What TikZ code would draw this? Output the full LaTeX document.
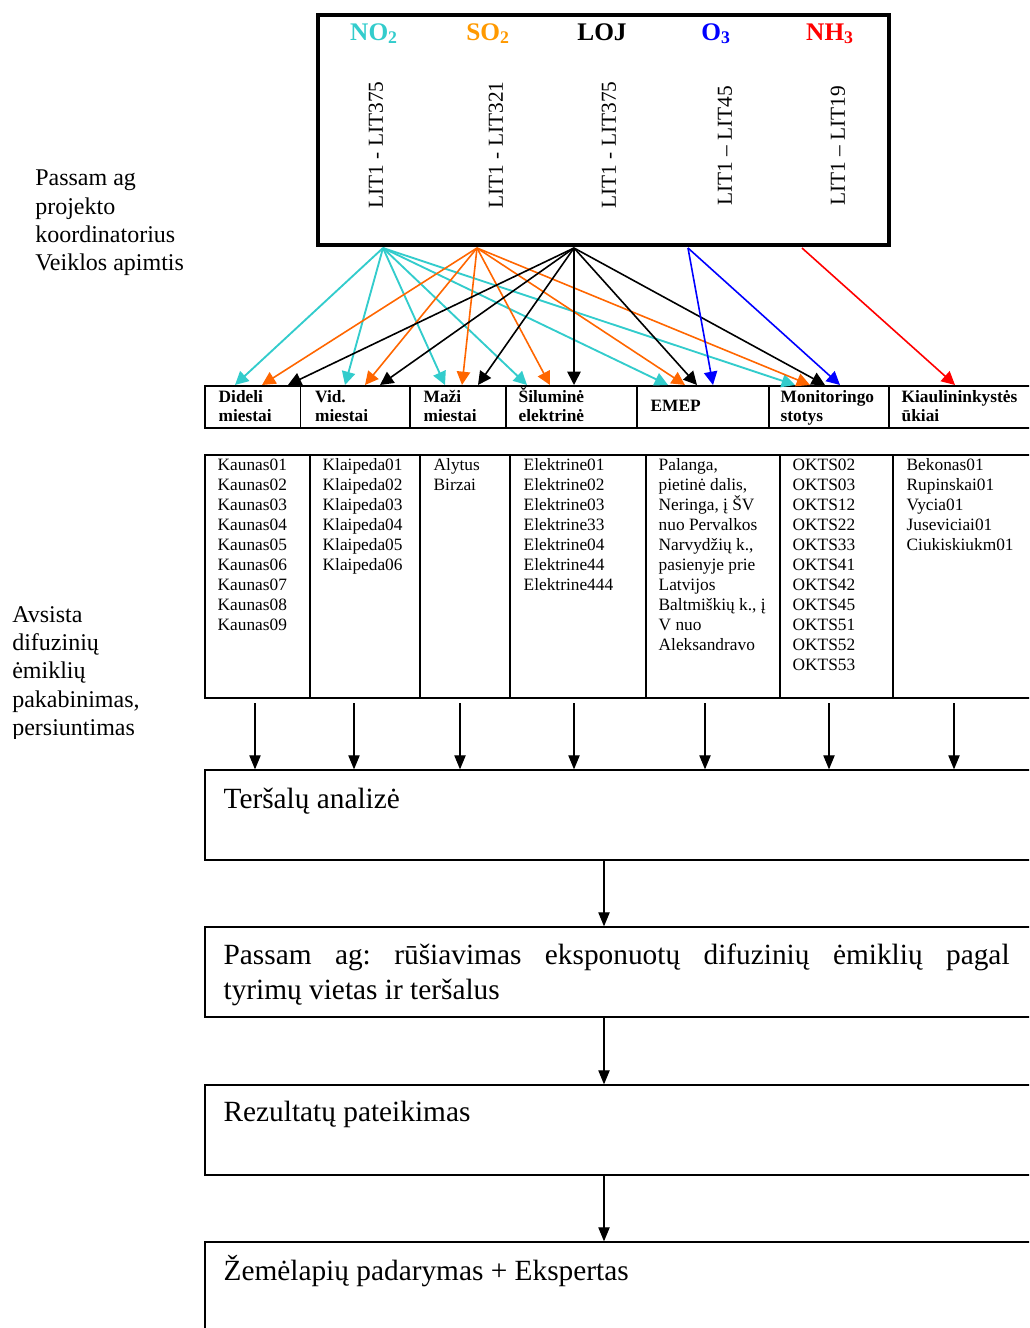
\documentclass[tikz,border=0pt]{standalone}
\usepackage{fontspec}
\setmainfont{Liberation Serif}
\usetikzlibrary{arrows.meta,fit,calc}
\definecolor{turq}{HTML}{33CCCC}
\definecolor{orng}{HTML}{FF6600}
\definecolor{orhead}{HTML}{FF9900}
\definecolor{blu}{HTML}{0000FF}
\definecolor{rd}{HTML}{FF0000}
\newcommand\tstrut[1]{\rule{0pt}{#1}}
\frenchspacing
\begin{document}
\begin{tikzpicture}[x=0.75pt,y=-0.75pt,
  cell/.style={draw,line width=0.9pt,inner sep=0pt},
  frame/.style={draw,line width=3pt,inner sep=0pt},
  flowbox/.style={draw,line width=1pt,inner sep=0pt},
  chem/.style={anchor=base,inner sep=0pt,font=\bfseries\fontsize{19}{21}\selectfont},
  vlab/.style={rotate=90,inner sep=0pt,font=\fontsize{16}{18}\selectfont},
  side/.style={anchor=north west,align=left,inner sep=0pt,font=\fontsize{18}{21.3}\selectfont},
  head/.style={anchor=north west,align=left,inner sep=0pt,font=\bfseries\fontsize{13}{14.3}\selectfont},
  list/.style={anchor=north west,align=left,inner sep=0pt,font=\fontsize{13}{15}\selectfont},
  boxtext/.style={anchor=north west,inner sep=0pt,font=\fontsize{22}{26.3}\selectfont},
  fan/.style={line width=1.2pt,-{Triangle[length=10pt,width=10pt]}},
  down/.style={line width=0.8pt,-{Triangle[length=10.5pt,width=8.5pt]}},
]
\useasboundingbox (0,0) rectangle (1029,1328);
\clip (0,0) rectangle (1029,1328);

% top frame
\node[frame,fit={(317.5,14.5) (888.5,244.5)}] (top) {};
\node[chem,text=turq]   (cNO) at (374,40) {NO\textsubscript{2}};
\node[chem,text=orhead] (cSO) at (488,40) {SO\textsubscript{2}};
\node[chem,text=black]  (cLOJ) at (602,40) {LOJ};
\node[chem,text=blu]    (cO) at (716,40) {O\textsubscript{3}};
\node[chem,text=rd]     (cNH) at (830,40) {NH\textsubscript{3}};
\node[vlab] (v1) at (376,145) {LIT1 - LIT375};
\node[vlab] (v2) at (496,145) {LIT1 - LIT321};
\node[vlab] (v3) at (609,145) {LIT1 - LIT375};
\node[vlab] (v4) at (725,146) {LIT1 – LIT45};
\node[vlab] (v5) at (838,146) {LIT1 – LIT19};

% side labels
\node[side] (sideA) at (35,164) {\tstrut{16pt}Passam ag\\projekto\\koordinatorius\\Veiklos apimtis};
\begin{scope}
\clip (0,590) rectangle (200,738);
\node[side] (sideB) at (12,600.5) {\tstrut{16pt}Avsista\\difuzinių\\ėmiklių\\pakabinimas,\\persiuntimas};
\end{scope}

% header row
\node[cell,fit={(205,386) (300.5,428)}] (h1) {};
\node[cell,fit={(300.5,386) (410,428)}] (h2) {};
\node[cell,fit={(410,386) (506,428)}] (h3) {};
\node[cell,fit={(506,386) (637,428)}] (h4) {};
\node[cell,fit={(637,386) (769,428)}] (h5) {};
\node[cell,fit={(769,386) (889,428)}] (h6) {};
\node[cell,fit={(889,386) (1045,428)}] (h7) {};
\node[head] (ht1) at ($(h1.north west)+(14,1)$) {\tstrut{12pt}Dideli\\miestai};
\node[head] (ht2) at ($(h2.north west)+(15,1)$) {\tstrut{12pt}Vid.\\miestai};
\node[head] (ht3) at ($(h3.north west)+(14,1)$) {\tstrut{12pt}Maži\\miestai};
\node[head] (ht4) at ($(h4.north west)+(13,1)$) {\tstrut{12pt}Šiluminė\\elektrinė};
\node[head] (ht5) at ($(h5.north west)+(14,10)$) {\tstrut{12pt}EMEP};
\node[head] (ht6) at ($(h6.north west)+(12,1)$) {\tstrut{12pt}Monitoringo\\stotys};
\node[head] (ht7) at ($(h7.north west)+(13,1)$) {\tstrut{12pt}Kiaulininkystės\\ūkiai};

% list table
\node[cell,fit={(205,455) (310,698)}] (l1) {};
\node[cell,fit={(310,455) (420,698)}] (l2) {};
\node[cell,fit={(420,455) (510,698)}] (l3) {};
\node[cell,fit={(510,455) (646,698)}] (l4) {};
\node[cell,fit={(646,455) (780,698)}] (l5) {};
\node[cell,fit={(780,455) (893,698)}] (l6) {};
\node[cell,fit={(893,455) (1045,698)}] (l7) {};
\node[list] (lt1) at ($(l1.north west)+(13,0)$) {\tstrut{12pt}Kaunas01\\Kaunas02\\Kaunas03\\Kaunas04\\Kaunas05\\Kaunas06\\Kaunas07\\Kaunas08\\Kaunas09};
\node[list] (lt2) at ($(l2.north west)+(13,0)$) {\tstrut{12pt}Klaipeda01\\Klaipeda02\\Klaipeda03\\Klaipeda04\\Klaipeda05\\Klaipeda06};
\node[list] (lt3) at ($(l3.north west)+(14,0)$) {\tstrut{12pt}Alytus\\Birzai};
\node[list] (lt4) at ($(l4.north west)+(14,0)$) {\tstrut{12pt}Elektrine01\\Elektrine02\\Elektrine03\\Elektrine33\\Elektrine04\\Elektrine44\\Elektrine444};
\node[list] (lt5) at ($(l5.north west)+(13,0)$) {\tstrut{12pt}Palanga,\\pietinė dalis,\\Neringa, į ŠV\\nuo Pervalkos\\Narvydžių k.,\\pasienyje prie\\Latvijos\\Baltmiškių k., į\\V nuo\\Aleksandravo};
\node[list] (lt6) at ($(l6.north west)+(13,0)$) {\tstrut{12pt}OKTS02\\OKTS03\\OKTS12\\OKTS22\\OKTS33\\OKTS41\\OKTS42\\OKTS45\\OKTS51\\OKTS52\\OKTS53};
\node[list] (lt7) at ($(l7.north west)+(14,0)$) {\tstrut{12pt}Bekonas01\\Rupinskai01\\Vycia01\\Juseviciai01\\Ciukiskiukm01};

% flow boxes
\node[flowbox,fit={(205,770) (1045,860)}] (b1) {};
\node[flowbox,fit={(205,927) (1045,1017)}] (b2) {};
\node[flowbox,fit={(205,1085) (1045,1175)}] (b3) {};
\node[flowbox,fit={(205,1242) (1045,1345)}] (b4) {};
\node[boxtext] (bt1) at ($(b1.north west)+(19,12.3)$) {\tstrut{20pt}Teršalų analizė};
\node[boxtext,text width=589.5pt,align=justify] (bt2) at ($(b2.north west)+(19,11.3)$)
  {\frenchspacing\hyphenpenalty=10000\tstrut{20pt}Passam ag: rūšiavimas eksponuotų difuzinių ėmiklių pagal\linebreak tyrimų vietas ir teršalus};
\node[boxtext] (bt3) at ($(b3.north west)+(19,10.3)$) {\tstrut{20pt}Rezultatų pateikimas};
\node[boxtext] (bt4) at ($(b4.north west)+(19,12.3)$) {\tstrut{20pt}Žemėlapių padarymas + Ekspertas};

% fan arrows from the top frame
\coordinate (sq) at (383,248);
\coordinate (so) at (477,248);
\coordinate (sk) at (574,248);
\coordinate (sb) at (688,248);
\coordinate (sr) at (802,248);
\foreach \x [count=\i] in {235,345,445,527,668,795}
  {\coordinate (tq\i) at (\x,385); \draw[fan,turq,line width=1.4pt] (sq) -- (tq\i);}
\foreach \x [count=\i] in {262,365,462,550,685,810}
  {\coordinate (to\i) at (\x,385); \draw[fan,orng] (so) -- (to\i);}
\foreach \x [count=\i] in {288,380,478,574,697,825}
  {\coordinate (tk\i) at (\x,385); \draw[fan,black] (sk) -- (tk\i);}
\foreach \x [count=\i] in {713,840}
  {\coordinate (tb\i) at (\x,385); \draw[fan,blu] (sb) -- (tb\i);}
\coordinate (tr1) at (955,385);
\draw[fan,rd] (sr) -- (tr1);

% arrows from table to analysis box
\foreach \x [count=\i] in {255,354,460,574,705,829,954}
  {\coordinate (ax\i) at (\x,703);
   \draw[down] (ax\i) -- (ax\i |- b1.north);}

% vertical flow
\coordinate (mid) at (604,0);
\draw[down] (b1.south -| mid) -- (b2.north -| mid);
\draw[down] (b2.south -| mid) -- (b3.north -| mid);
\draw[down] (b3.south -| mid) -- (b4.north -| mid);
\end{tikzpicture}
\end{document}
